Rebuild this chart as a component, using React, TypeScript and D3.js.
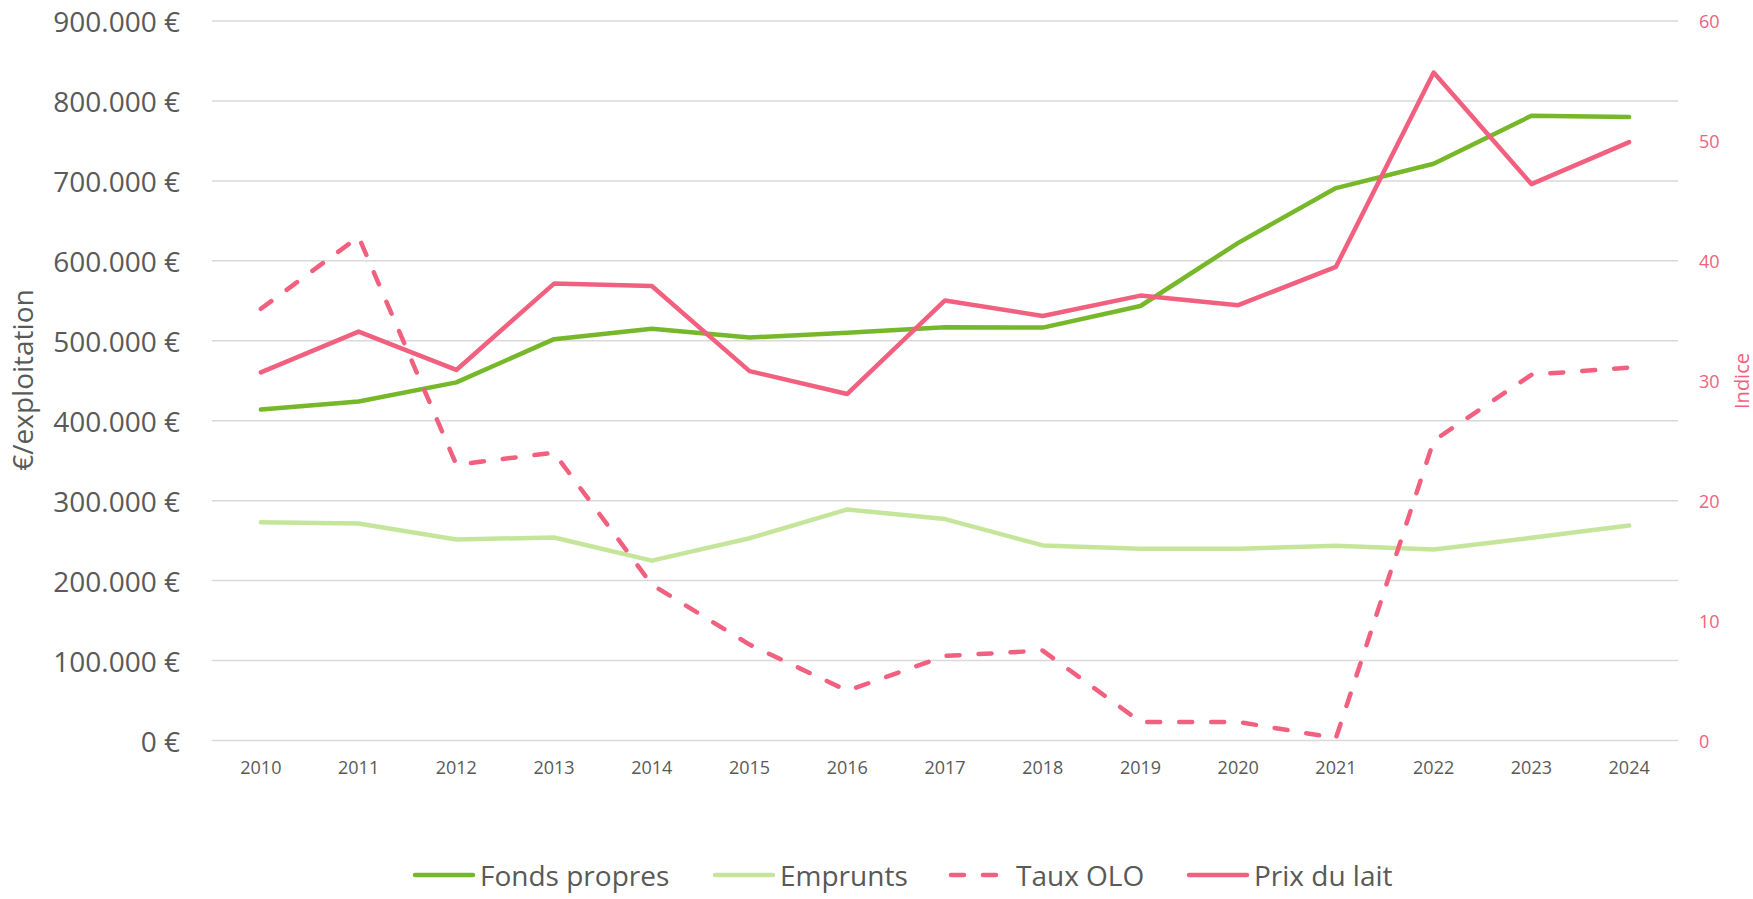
import { scalePoint, scaleLinear, line } from "d3";

// chart data
const years = ["2010", "2011", "2012", "2013", "2014", "2015", "2016", "2017", "2018", "2019", "2020", "2021", "2022", "2023", "2024"];
const fondsPropres = [414000, 424000, 448000, 502000, 515000, 504000, 510000, 517000, 516500, 543500, 622500, 691000, 721500, 781500, 780000];
const emprunts = [273000, 271500, 251500, 254000, 225000, 253000, 289000, 277000, 244000, 240000, 240000, 243500, 239000, 253500, 269000];
const tauxOLO = [36.0, 42.0, 23.0, 24.0, 13.0, 8.0, 4.15, 7.05, 7.5, 1.55, 1.55, 0.2, 25.0, 30.5, 31.1];
const prixLait = [30.7, 34.1, 30.9, 38.1, 37.9, 30.8, 28.9, 36.7, 35.4, 37.1, 36.3, 39.5, 55.7, 46.4, 49.9];

const leftTicks = [0, 100000, 200000, 300000, 400000, 500000, 600000, 700000, 800000, 900000];
const rightTicks = [0, 10, 20, 30, 40, 50, 60];

const GREEN = "#76B82A";
const LIGHT_GREEN = "#C5E69A";
const PINK = "#F2607F";
const TEXT = "#595959";
const FONT = "'Open Sans', 'DejaVu Sans', sans-serif";
const DASH = "13 19";

const series = [
    { name: "Fonds propres", values: fondsPropres, axis: "left", color: GREEN, dash: null },
    { name: "Emprunts", values: emprunts, axis: "left", color: LIGHT_GREEN, dash: null },
    { name: "Taux OLO", values: tauxOLO, axis: "right", color: PINK, dash: DASH },
    { name: "Prix du lait", values: prixLait, axis: "right", color: PINK, dash: null },
];

// legend entries: x of the sample line start
const legendX = [413, 713, 949, 1187];

function formatEuro(v: number) {
    if (v === 0) return "0 €";
    const s = String(v).replace(/\B(?=(\d{3})+(?!\d))/g, ".");
    return `${s} €`;
}

export default function App() {
    const width = 1753;
    const height = 899;
    const plot = { left: 212, right: 1678, top: 21, bottom: 740.5 };

    const x = scalePoint<string>().domain(years).range([plot.left, plot.right]).padding(0.5);
    const yLeft = scaleLinear().domain([0, 900000]).range([plot.bottom, plot.top]);
    const yRight = scaleLinear().domain([0, 60]).range([plot.bottom, plot.top]);

    const makePath = (values: number[], axis: string) => {
        const y = axis === "left" ? yLeft : yRight;
        return line<number>()
            .x((_, i) => x(years[i]) as number)
            .y(d => y(d))(values);
    };

    return (
        <svg
            width={width}
            height={height}
            style={{ position: "absolute", left: 0, top: 0, background: "white", fontFamily: FONT }}
        >
            {/* gridlines */}
            {leftTicks.map(t => (
                <line key={"g" + t} x1={plot.left} x2={plot.right} y1={yLeft(t)} y2={yLeft(t)}
                    stroke="#D9D9D9" strokeWidth={1.5} />
            ))}

            {/* left axis labels */}
            {leftTicks.map(t => (
                <text key={"l" + t} x={180} y={yLeft(t)} textAnchor="end" dominantBaseline="central"
                    fontSize={28} fill={TEXT}>
                    {formatEuro(t)}
                </text>
            ))}
            <text transform={`translate(22, 380) rotate(-90)`} textAnchor="middle" dominantBaseline="central"
                fontSize={28} fill={TEXT}>
                €/exploitation
            </text>

            {/* right axis labels */}
            {rightTicks.map(t => (
                <text key={"r" + t} x={1699} y={yRight(t)} textAnchor="start" dominantBaseline="central"
                    fontSize={18} fill={PINK}>
                    {t}
                </text>
            ))}
            <text transform={`translate(1741, 381) rotate(-90)`} textAnchor="middle" dominantBaseline="central"
                fontSize={20} fill={PINK}>
                Indice
            </text>

            {/* x axis labels */}
            {years.map(yr => (
                <text key={yr} x={x(yr)} y={767} textAnchor="middle" dominantBaseline="central"
                    fontSize={18} fill={TEXT}>
                    {yr}
                </text>
            ))}

            {/* series lines */}
            {series.map(s => (
                <path key={s.name} d={makePath(s.values, s.axis) || ""} fill="none" stroke={s.color}
                    strokeWidth={4.5} strokeLinejoin="round" strokeLinecap="round"
                    strokeDasharray={s.dash || undefined} />
            ))}

            {/* legend */}
            {series.map((s, i) => (
                <g key={"leg" + s.name} transform={`translate(${legendX[i]}, 875)`}>
                    <line x1={2} x2={60} y1={0} y2={0} stroke={s.color} strokeWidth={4.5}
                        strokeLinecap="round" strokeDasharray={s.dash || undefined} />
                    <text x={67} y={0} dominantBaseline="central" fontSize={28} fill={TEXT}>
                        {s.name}
                    </text>
                </g>
            ))}
        </svg>
    );
}
